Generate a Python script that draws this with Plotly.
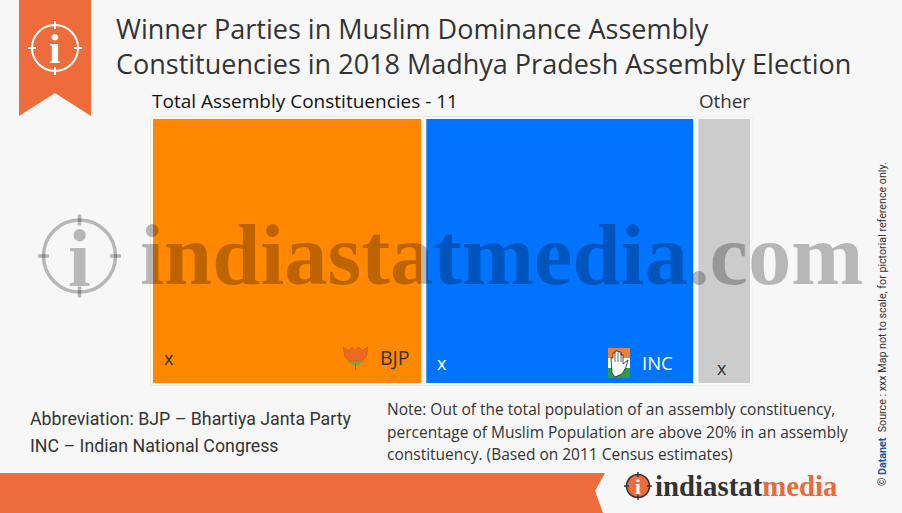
import plotly.graph_objects as go

W, H = 902, 513
BG = "#f7f7f7"
ACCENT = "#ee6c3b"

# tile widths are shares of the whole (the seat counts are shown as "x")
parties = ["BJP", "INC", "Other"]
shares = [45.4, 45.2, 9.4]
colors = ["#ff8800", "#0073ff", "#cccccc"]
tile_height = [1, 1, 1]

starts = [sum(shares[:i]) for i in range(len(shares))]

fig = go.Figure(go.Bar(
    x=starts, y=tile_height, width=shares, offset=0, customdata=parties,
    marker=dict(color=colors, line=dict(color=BG, width=5)),
    hovertemplate="%{customdata}<extra></extra>", showlegend=False,
))


def label(x, y, text, size, color="#333333", family="Open Sans", xanchor="left", **kw):
    # x2/y2 is a hidden axis pair measured in page pixels
    fig.add_annotation(
        xref="x2", yref="y2", x=x, y=y, text=text, showarrow=False, xanchor=xanchor, yanchor="middle",
        font=dict(size=size, color=color, family=family), align="left", **kw,
    )


def shape(kind="path", **kw):
    if "line" not in kw:
        kw["line_width"] = 0
    fig.add_shape(type=kind, xref="x2", yref="y2", **kw)


def info_icon(cx, cy, r, color, line_width, fill=None, tick=None):
    tick = tick or r * 0.18
    shape("circle", x0=cx - r, x1=cx + r, y0=cy - r, y1=cy + r, line=dict(color=color, width=line_width),
          fillcolor=fill or "rgba(0,0,0,0)")
    for dx, dy in [(1, 0), (-1, 0), (0, 1), (0, -1)]:
        shape("line", x0=cx + dx * (r - tick), x1=cx + dx * (r + tick), y0=cy + dy * (r - tick), y1=cy + dy * (r + tick),
              line=dict(color=color, width=line_width))


# ribbon and footer band
shape(path="M19,0 L91,0 L91,116 L55,93 L19,116 Z", fillcolor=ACCENT)
shape(path="M0,473 L605,473 L595,491 L603,513 L0,513 Z", fillcolor=ACCENT)

# corner icon
info_icon(55, 48, 23, "white", 2, tick=4)
label(55, 49, "<b>i</b>", 42, "white", "Liberation Serif", xanchor="center")

# watermark
info_icon(79.5, 256, 36, "rgba(0,0,0,0.26)", 3.5, tick=5.5)
label(79.5, 258, "<b>i</b>", 82, "rgba(0,0,0,0.26)", "Liberation Serif", xanchor="center")
label(138, 255, "<b>indiastatmedia.com</b>", 86.5, "rgba(0,0,0,0.26)", "Liberation Serif")

# title
label(114, 28, "Winner Parties in Muslim Dominance Assembly", 27)
label(114, 63, "Constituencies in 2018 Madhya Pradesh Assembly Election", 27)
label(150, 101, "Total Assembly Constituencies - 11", 19, "#111111")
label(697, 101, "Other", 18.8)

# tile labels
label(162, 358, "x", 18)
label(435, 363, "x", 18, "white")
label(715, 368, "x", 18)
label(378, 357, "BJP", 19.5)
label(640, 362, "INC", 18.5, "white")

# lotus symbol
shape(path="M343,347 L349,351 L352,347 L355.5,351 L359,347 L362,351 L368,347 L366,357 L361,361 L350,361 L345,357 Z",
      fillcolor="#ee6a24", line=dict(color="#b5501c", width=0.5))
shape(path="M346,361 L366,361 L358,365 L354,365 Z", fillcolor="#7fa33a")
shape("line", x0=355.5, x1=355.5, y0=364, y1=370, line=dict(color="#a35a20", width=1))

# hand symbol on tricolour
shape("rect", x0=608, x1=630, y0=348, y1=358, fillcolor="#f0813a")
shape("rect", x0=608, x1=630, y0=358, y1=368, fillcolor="white")
shape("rect", x0=608, x1=630, y0=368, y1=378, fillcolor="#2a9a4e")
shape(path="M612,373 L611,358 L613,358 L613,353 L615,353 L615,351 L618,351 L618,352 L621,352 L621,355 L623,355 "
           "L623,364 L628,360 L626,367 L622,374 L615,377 Z",
      fillcolor="white", line=dict(color="#222222", width=0.8))
for finger_x in [615, 618, 621]:
    shape("line", x0=finger_x, x1=finger_x, y0=353, y1=362, line=dict(color="#222222", width=0.7))

# notes
label(28, 418, "Abbreviation: BJP – Bhartiya Janta Party", 17.8, "#333333", "Roboto")
label(28, 445, "INC – Indian National Congress", 17.8, "#333333", "Roboto")
label(385, 409, "Note: Out of the total population of an assembly constituency,", 15.5)
label(385, 432, "percentage of Muslim Population are above 20% in an assembly", 15.5)
label(385, 454, "constituency. (Based on 2011 Census estimates)", 15.5)

# footer logo
info_icon(638, 486, 11.5, "#333333", 1.5, fill=ACCENT, tick=2.5)
label(638, 487, "<b>i</b>", 21, "white", "Liberation Serif", xanchor="center")
label(653, 486, '<b>indiastat</b><span style="color:#e8693a"><b>media</b></span>', 28.8, "#333333", "Liberation Serif")

# side credit
label(882, 324, '© <b><span style="color:#17579c">Datanet</span></b>  Source : xxx Map not to scale, for pictorial reference only.',
      10.7, "#333333", "Roboto", xanchor="center", textangle=-90)

fig.update_layout(
    width=W, height=H, margin=dict(l=0, r=0, t=0, b=0), paper_bgcolor=BG, plot_bgcolor="rgba(0,0,0,0)",
    xaxis=dict(domain=[150.5 / W, 752.5 / W], range=[0, 100], visible=False, fixedrange=True),
    yaxis=dict(domain=[1 - 385.5 / H, 1 - 116.5 / H], range=[0, 1], visible=False, fixedrange=True),
    xaxis2=dict(domain=[0, 1], range=[0, W], visible=False, fixedrange=True, anchor="y2"),
    yaxis2=dict(domain=[0, 1], range=[H, 0], visible=False, fixedrange=True, anchor="x2"),
)

fig.write_html("out.html", config={"displayModeBar": False}, post_script="document.body.style.margin='0';")
